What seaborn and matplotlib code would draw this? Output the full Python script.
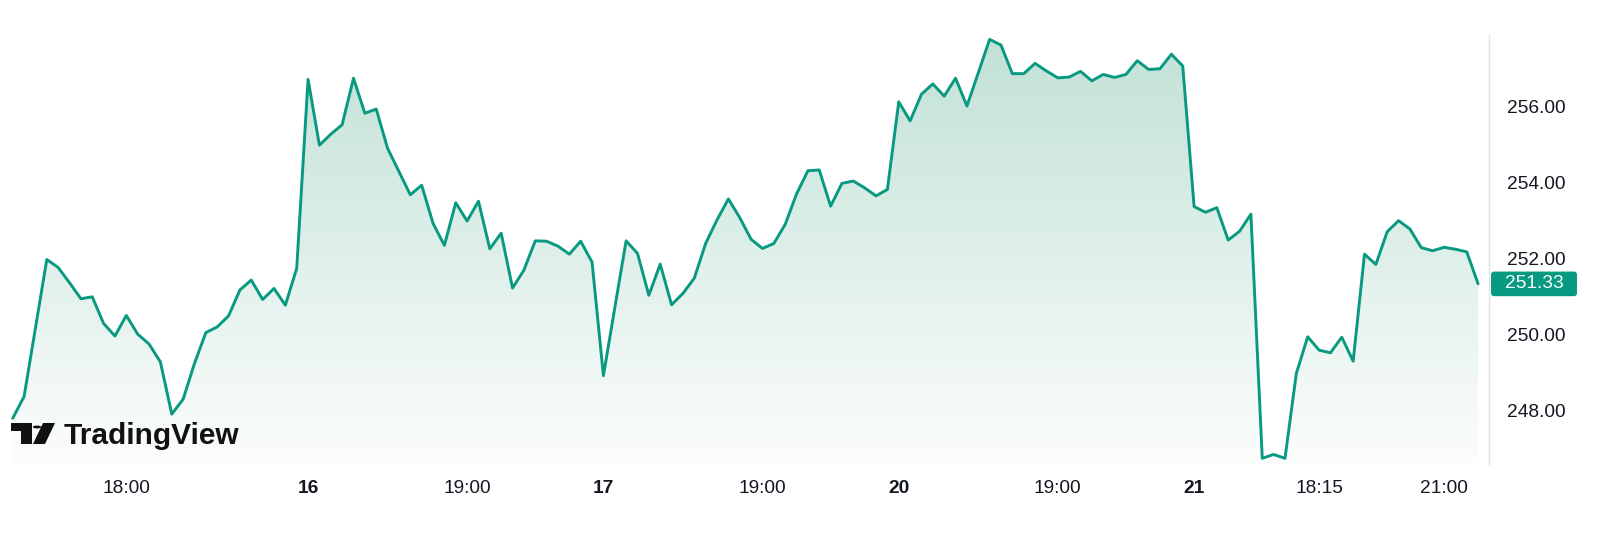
import numpy as np
import pandas as pd
import matplotlib
matplotlib.use("Agg")
import matplotlib.pyplot as plt
import seaborn as sns
from matplotlib.colors import LinearSegmentedColormap
from matplotlib.patches import FancyBboxPatch, Rectangle, Circle, Polygon
from matplotlib.transforms import blended_transform_factory

# 15-minute closes, 15-21 (bar index on x)
prices = [
    247.80, 248.37, 250.17, 251.97, 251.76, 251.36, 250.94, 250.99, 250.29, 249.96,
    250.50, 250.01, 249.75, 249.28, 247.91, 248.30, 249.24, 250.05, 250.20, 250.49,
    251.17, 251.43, 250.92, 251.21, 250.77, 251.74, 256.70, 254.97, 255.26, 255.51,
    256.73, 255.81, 255.92, 254.89, 254.28, 253.67, 253.92, 252.92, 252.34, 253.46,
    252.98, 253.50, 252.25, 252.66, 251.22, 251.69, 252.46, 252.45, 252.32, 252.11,
    252.45, 251.90, 248.92, 250.70, 252.46, 252.13, 251.03, 251.85, 250.78, 251.08,
    251.48, 252.39, 253.01, 253.56, 253.07, 252.50, 252.26, 252.39, 252.89, 253.69,
    254.30, 254.32, 253.37, 253.97, 254.03, 253.85, 253.64, 253.81, 256.11, 255.61,
    256.31, 256.58, 256.26, 256.73, 256.00, 256.87, 257.75, 257.60, 256.85, 256.85,
    257.12, 256.92, 256.74, 256.76, 256.91, 256.66, 256.83, 256.75, 256.83, 257.19,
    256.96, 256.98, 257.36, 257.05, 253.36, 253.21, 253.33, 252.48, 252.71, 253.16,
    246.75, 246.85, 246.75, 248.98, 249.94, 249.59, 249.52, 249.93, 249.30, 252.11,
    251.84, 252.70, 252.99, 252.77, 252.28, 252.20, 252.29, 252.24, 252.17, 251.33,
]
tick_pos = [10, 26, 40, 52, 66, 78, 92, 104, 115, 126]
tick_labels = ["18:00", "16", "19:00", "17", "19:00", "20", "19:00", "21", "18:15", "21:00"]
day_labels = ["16", "17", "20", "21"]
price_ticks = [248, 250, 252, 254, 256]
last_price = prices[-1]

GREEN = "#089981"
TEXT = "#131722"

sns.set_style("white")
plt.rcParams["font.family"] = ["Liberation Sans", "DejaVu Sans"]

df = pd.DataFrame({"bar": np.arange(len(prices)), "price": prices})

W, H = 1600, 543
fig = plt.figure(figsize=(W / 100, H / 100), dpi=100)
ax = fig.add_axes([0, (H - 464) / H, 1489 / W, (464 - 35) / H])

xlim = (-1.12, 129.96)
ylim = (246.60, 257.865)

# gradient area under the line
poly = ax.fill_between(df["bar"], df["price"], ylim[0], facecolor="none", edgecolor="none")
cmap = LinearSegmentedColormap.from_list("area", ["#fcfdfd", "#c1e1d7"])
grad = np.linspace(0, 1, 256).reshape(-1, 1)
im = ax.imshow(grad, extent=[xlim[0], xlim[1], ylim[0], ylim[1]], origin="lower",
               aspect="auto", cmap=cmap, zorder=1)
im.set_clip_path(poly.get_paths()[0], transform=ax.transData)

sns.lineplot(data=df, x="bar", y="price", color=GREEN, linewidth=2.1, ax=ax, zorder=3)

ax.set_xlim(*xlim)
ax.set_ylim(*ylim)
ax.set_xlabel("")
ax.set_ylabel("")

for side in ["top", "left", "bottom"]:
    ax.spines[side].set_visible(False)
ax.spines["right"].set_color("#e0e3eb")
ax.spines["right"].set_linewidth(1.0)

ax.yaxis.tick_right()
ax.set_yticks(price_ticks)
ax.set_yticklabels(["{:.2f}".format(v) for v in price_ticks])
ax.tick_params(axis="y", length=0, pad=13.3, labelsize=13.8, labelcolor=TEXT)

ax.set_xticks(tick_pos)
ax.set_xticklabels(tick_labels)
ax.tick_params(axis="x", length=0, pad=11.5, labelsize=13.8, labelcolor=TEXT)
for lab in ax.get_xticklabels():
    if lab.get_text() in day_labels:
        lab.set_fontweight("bold")

# last price tag
trans = blended_transform_factory(fig.transFigure, ax.transData)
box_h = 0.646
tag = FancyBboxPatch((1491 / W, last_price - box_h / 2), 86 / W, box_h,
                     boxstyle="round,pad=0,rounding_size=0.0019",
                     mutation_aspect=42, transform=trans, facecolor=GREEN,
                     edgecolor="none", clip_on=False, zorder=5)
fig.add_artist(tag)
fig.text(1534 / W, last_price, "{:.2f}".format(last_price), transform=trans,
         color="white", fontsize=13.8, ha="center", va="center", zorder=6)


# TradingView watermark
def px(x, y):
    return (x / W, 1 - y / H)


logo_parts = [
    Rectangle(px(11, 431), 21 / W, 8 / H),
    Rectangle(px(21, 444), 11 / W, 21 / H),
    Circle(px(37, 427), 4.2 / W),
    Polygon([px(43, 423), px(55, 423), px(45, 444), px(33, 444)]),
]
for p in logo_parts:
    p.set_transform(fig.transFigure)
    p.set_facecolor("#111111")
    p.set_edgecolor("none")
    fig.add_artist(p)
fig.text(64 / W, 1 - 444 / H, "TradingView", fontsize=21.5, fontweight="bold",
         color="#111111", ha="left", va="baseline")

fig.savefig("out.png", dpi=100)
